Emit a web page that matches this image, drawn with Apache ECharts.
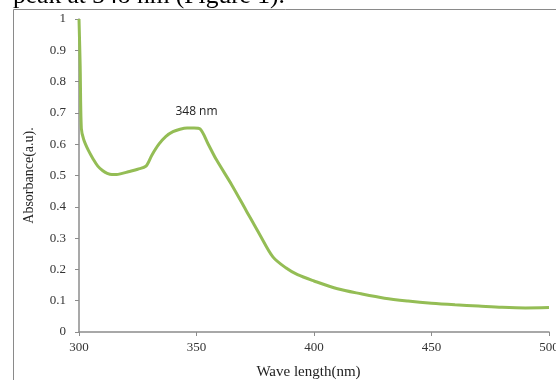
<!DOCTYPE html>
<html>
<head>
<meta charset="utf-8">
<script src="https://cdn.jsdelivr.net/npm/echarts@6/dist/echarts.min.js"></script>
<style>html,body{margin:0;padding:0;background:#fff;}#c{width:556px;height:380px;}</style>
</head>
<body>
<div id="c"></div>
<script>
var wavelengths = [300, 300.5, 301, 302, 304, 306, 308, 310, 312, 314, 316, 318, 321, 325, 328.5, 331, 334, 337, 340, 343, 346, 349, 351.5, 355, 358.5, 365, 371, 377, 382.5, 388, 393, 400, 410, 420, 430, 440, 450, 460, 470, 480, 490, 500];
var absorbance = [1.0, 0.85, 0.65, 0.615, 0.58, 0.553, 0.53, 0.516, 0.507, 0.503, 0.503, 0.506, 0.512, 0.52, 0.53, 0.565, 0.6, 0.625, 0.64, 0.648, 0.652, 0.652, 0.649, 0.6, 0.55, 0.47, 0.39, 0.31, 0.24, 0.205, 0.183, 0.163, 0.138, 0.122, 0.108, 0.099, 0.092, 0.087, 0.083, 0.079, 0.077, 0.078];
var peakLabel = '348 nm';
var peakPos = [350, 0.705];
var xTitle = 'Wave length(nm)';
var yTitle = 'Absorbance(a.u).';
var caption = 'peak at 348 nm (Figure 1).';

var chart = echarts.init(document.getElementById('c'));
var pts = wavelengths.map(function (w, i) { return [w, absorbance[i]]; });
var serif = 'Liberation Serif';
chart.setOption({
  animation: false,
  graphic: [
    { type: 'rect', shape: { x: 13.5, y: 9.5, width: 700, height: 500 }, style: { fill: 'none', stroke: '#8a8a8a', lineWidth: 1 }, silent: true },
    { type: 'text', left: 13, top: -17, style: { text: caption, font: '25.5px "Liberation Serif"', fill: '#000' } }
  ],
  grid: { left: 79, right: 7, top: 19, bottom: 48, outerBoundsMode: 'none', containLabel: false },
  xAxis: {
    type: 'value', min: 300, max: 500, interval: 50,
    name: xTitle, nameLocation: 'middle', nameGap: 33,
    nameTextStyle: { fontFamily: serif, fontSize: 15, color: '#222', padding: [0, 11, 0, 0] },
    axisLine: { lineStyle: { color: '#8c8c8c', width: 1.5 } },
    axisTick: { show: true, length: 4, lineStyle: { color: '#8c8c8c' } },
    axisLabel: { fontFamily: serif, fontSize: 13, color: '#333', margin: 9 },
    splitLine: { show: false }
  },
  yAxis: {
    type: 'value', min: 0, max: 1, interval: 0.1,
    name: yTitle, nameLocation: 'middle', nameGap: 43, nameRotate: 90,
    nameTextStyle: { fontFamily: serif, fontSize: 14, color: '#222' },
    axisLine: { show: true, lineStyle: { color: '#8c8c8c', width: 1.5 } },
    axisTick: { show: true, length: 4, lineStyle: { color: '#8c8c8c' } },
    axisLabel: { fontFamily: serif, fontSize: 13, color: '#333', margin: 13 },
    splitLine: { show: false }
  },
  series: [{
    type: 'line',
    data: pts,
    showSymbol: false,
    smooth: 0.3,
    lineStyle: { color: '#94bd55', width: 3 },
    markPoint: {
      symbol: 'circle', symbolSize: 0,
      data: [{ coord: peakPos }],
      label: { show: true, formatter: peakLabel, position: 'inside', fontFamily: 'Open Sans', fontSize: 12, color: '#222' }
    }
  }]
});
</script>
</body>
</html>
